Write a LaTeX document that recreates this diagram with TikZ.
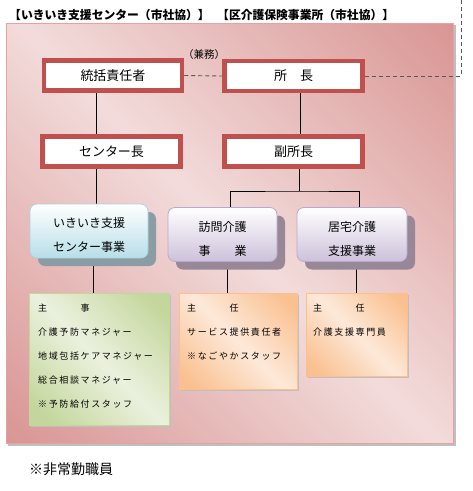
\documentclass[tikz,border=0pt]{standalone}
\usepackage{fontspec}
\setmainfont{Noto Sans CJK JP}
\newfontfamily\spacedjp[LetterSpace=18]{Noto Sans CJK JP}
\usetikzlibrary{shadows,backgrounds}

\definecolor{bgLight}{HTML}{F2DCDB}
\definecolor{bgDark}{HTML}{D99694}
\definecolor{bgEdge}{HTML}{E3A3A2}
\definecolor{bgShadow}{HTML}{BFBFBF}
\definecolor{frameRed}{HTML}{C0504D}
\definecolor{blueFill}{HTML}{B7DEE8}
\definecolor{blueEdge}{HTML}{A5D5E2}
\definecolor{blueShadow}{HTML}{8B9CA4}
\definecolor{purpleFill}{HTML}{CCC1DA}
\definecolor{purpleEdge}{HTML}{B9A9CC}
\definecolor{purpleShadow}{HTML}{978797}
\definecolor{greenDark}{HTML}{C3D69B}
\definecolor{greenLight}{HTML}{EBF1DE}
\definecolor{orangeDark}{HTML}{FAC090}
\definecolor{orangeLight}{HTML}{FDE9D9}
\definecolor{dashGray}{HTML}{595959}

\pgfdeclarehorizontalshading{bgshade}{100bp}{color(0bp)=(bgDark); color(15bp)=(bgDark); color(50bp)=(bgLight); color(85bp)=(bgDark); color(100bp)=(bgDark)}
\pgfdeclarehorizontalshading{greenshade}{100bp}{color(0bp)=(greenDark); color(20bp)=(greenDark); color(50bp)=(greenLight); color(80bp)=(greenDark); color(100bp)=(greenDark)}
\pgfdeclarehorizontalshading{orangeshade}{100bp}{color(0bp)=(orangeDark); color(20bp)=(orangeDark); color(50bp)=(orangeLight); color(80bp)=(orangeDark); color(100bp)=(orangeDark)}

\newcommand{\topgap}{\rule{0pt}{18pt}}

\begin{document}
\begin{tikzpicture}[x=1pt,y=-1pt]

      \tikzset{redbox/.style={draw=frameRed, line width=4.5pt, fill=white, minimum width=138pt, minimum height=30pt, inner sep=0pt, font=\fontsize{13}{15}\selectfont},
               unitbox/.style={rounded corners=7pt, line width=0.8pt, minimum height=54pt, align=center, inner sep=0pt, font=\fontsize{12}{24}\selectfont},
               bluebox/.style={unitbox, draw=blueEdge, top color=white, bottom color=blueFill, drop shadow={shadow xshift=8pt, shadow yshift=-8pt, fill=blueShadow, opacity=1}},
               purplebox/.style={unitbox, draw=purpleEdge, top color=white, bottom color=purpleFill, drop shadow={shadow xshift=8pt, shadow yshift=-8pt, fill=purpleShadow, opacity=1}},
               staffbox/.style={anchor=north west, inner sep=0pt, line width=0.6pt, shading angle=45, drop shadow={shadow xshift=1.5pt, shadow yshift=-1.5pt, fill=bgShadow, opacity=1}},
               stafftext/.style={anchor=north west, inner sep=0pt, align=left, font=\spacedjp\fontsize{9}{24}\selectfont},
               titletext/.style={anchor=west, inner sep=0pt, font=\fontsize{11.8}{14}\selectfont\bfseries},
               link/.style={black, line width=0.8pt},
               dashlink/.style={draw=dashGray, line width=0.9pt, dash pattern=on 4pt off 3pt}}

      \useasboundingbox (0,0) rectangle (473,491);
% Titles
      	\node[titletext] (titleA) at (9,15) {【いきいき支援センター（市社協）】};
      	\node[titletext] (titleB) at (217,15) {【区介護保険事業所（市社協）】};
      	\node[anchor=west, inner sep=0pt, font=\fontsize{14}{16}\selectfont] (note) at (29,469) {※非常勤職員};
      	\node[inner sep=0pt, font=\fontsize{10.5}{12}\selectfont] (kenmu) at (204,55) {（兼務）};
% Managers
      	\node[redbox] (tokatsu) at (113,75.5) {統括責任者};
      	\node[redbox] (shocho) at (293.5,76) {所　長};
      	\node[redbox] (center) at (111.5,151.5) {センター長};
      	\node[redbox] (fuku) at (293.5,151.5) {副所長};
      	\foreach \n in {tokatsu,shocho,center,fuku}
      	  \draw[frameRed, line width=0.8pt] ([shift={(3.5pt,-3.5pt)}]\n.north west) rectangle ([shift={(-3.5pt,3.5pt)}]\n.south east);
% Units
      	\node[bluebox, minimum width=118pt] (ikiiki) at (89,231) {\topgap いきいき支援\\センター事業};
      	\node[purplebox, minimum width=109pt] (houmon) at (222.5,234.5) {\topgap 訪問介護\\事　　業};
      	\node[purplebox, minimum width=110pt] (kyotaku) at (352,234.5) {\topgap 居宅介護\\支援事業};
% Staff
      	\node[staffbox, draw=greenDark, shading=greenshade, minimum width=140pt, minimum height=132pt] (greenbox) at (29,293) {};
      	\node[staffbox, draw=orangeDark, shading=orangeshade, minimum width=118pt, minimum height=96pt] (orangeA) at (179,293) {};
      	\node[staffbox, draw=orangeDark, shading=orangeshade, minimum width=101pt, minimum height=83pt] (orangeB) at (306,293) {};
      	\node[stafftext] (greentext) at ([shift={(9pt,-11pt)}]greenbox.north west) {主　　　事\\介護予防マネジャー\\地域包括ケアマネジャー\\総合相談マネジャー\\※予防給付スタッフ};
      	\node[stafftext] (orangeAtext) at ([shift={(8pt,-11pt)}]orangeA.north west) {主　　　任\\サービス提供責任者\\※なごやかスタッフ};
      	\node[stafftext] (orangeBtext) at ([shift={(7pt,-11pt)}]orangeB.north west) {主　　　任\\介護支援専門員};
%Edges
      	\coordinate (xA) at (96,0);
      	\coordinate (xB) at (300,0);
      	\coordinate (split) at (299,191);
      	\coordinate (xC) at (230,0);
      	\coordinate (xD) at (359,0);
      	\coordinate (xE) at (93,0);
      	\coordinate (xF) at (227,0);
      	\coordinate (xG) at (356,0);
      	\coordinate (dashcorner) at (461,76);
      	\coordinate (dashtop) at (461,0);
      	\begin{scope}[on background layer]
      	  \fill[bgShadow] (8,25) rectangle (455.5,445.5);
      	  \shadedraw[draw=bgEdge, line width=1pt, shading=bgshade, shading angle=45] (6,23) rectangle (453,443);
      	  \draw[dashlink] (tokatsu.east) -- (shocho.west);
      	  \draw[dashlink] (shocho.east) -- (dashcorner) -- (dashtop);
      	  \draw[link] (tokatsu.south -| xA) -- (center.north -| xA);
      	  \draw[link] (shocho.south -| xB) -- (fuku.north -| xB);
      	  \draw[link] (center.south -| xA) -- (ikiiki.north -| xA);
      	  \draw[link] (fuku.south -| split) -- (split);
      	  \draw[link] (houmon.north -| xC) |- (split) -| (kyotaku.north -| xD);
      	  \draw[link] (ikiiki.south -| xE) -- (greenbox.north -| xE);
      	  \draw[link] (houmon.south -| xF) -- (orangeA.north -| xF);
      	  \draw[link] (kyotaku.south -| xG) -- (orangeB.north -| xG);
      	\end{scope}

\end{tikzpicture}
\end{document}
